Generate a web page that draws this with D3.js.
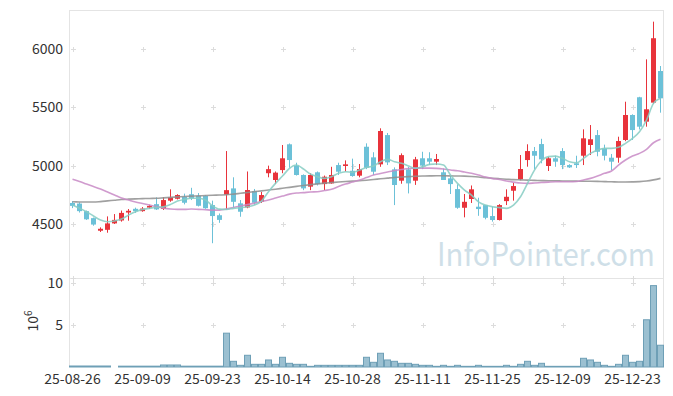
<!DOCTYPE html>
<html>
<head>
<meta charset="utf-8">
<script src="https://cdn.jsdelivr.net/npm/d3@7"></script>
<style>
  body { margin: 0; background: #fff; }
  svg { display: block; }
</style>
</head>
<body>
<svg id="chart" width="673" height="396"></svg>
<script>
// trading days (KRX), 2025-08-26 .. 2025-12-30
const dates = [
  "25-08-26", "25-08-27", "25-08-28", "25-08-29",
  "25-09-01", "25-09-02", "25-09-03", "25-09-04", "25-09-05",
  "25-09-08", "25-09-09", "25-09-10", "25-09-11", "25-09-12",
  "25-09-15", "25-09-16", "25-09-17", "25-09-18", "25-09-19",
  "25-09-22", "25-09-23", "25-09-24", "25-09-25", "25-09-26",
  "25-09-29", "25-09-30", "25-10-01", "25-10-02", "25-10-10",
  "25-10-13", "25-10-14", "25-10-15", "25-10-16", "25-10-17",
  "25-10-20", "25-10-21", "25-10-22", "25-10-23", "25-10-24",
  "25-10-27", "25-10-28", "25-10-29", "25-10-30", "25-10-31",
  "25-11-03", "25-11-04", "25-11-05", "25-11-06", "25-11-07",
  "25-11-10", "25-11-11", "25-11-12", "25-11-13", "25-11-14",
  "25-11-17", "25-11-18", "25-11-19", "25-11-20", "25-11-21",
  "25-11-24", "25-11-25", "25-11-26", "25-11-27", "25-11-28",
  "25-12-01", "25-12-02", "25-12-03", "25-12-04", "25-12-05",
  "25-12-08", "25-12-09", "25-12-10", "25-12-11", "25-12-12",
  "25-12-15", "25-12-16", "25-12-17", "25-12-18", "25-12-19",
  "25-12-22", "25-12-23", "25-12-24", "25-12-26", "25-12-29", "25-12-30"
];

const open = [
  4680, 4675, 4610, 4550, 4442, 4450, 4505, 4530, 4598, 4630,
  4610, 4640, 4670, 4630, 4700, 4716, 4733, 4755, 4740, 4740,
  4662, 4575, 4752, 4805, 4677, 4642, 4782, 4690, 4935, 4877,
  4962, 5183, 5000, 4920, 4820, 4943, 4842, 4848, 5005, 4997,
  4956, 4914, 5162, 5071, 5011, 5262, 4968, 4871, 4968, 4871,
  5063, 5063, 5034, 4943, 4891, 4799, 4639, 4714, 4648, 4662,
  4568, 4534, 4696, 4785, 4883, 5048, 5125, 5185, 4997, 5063,
  5125, 5005, 5020, 5085, 5177, 5262, 5148, 5068, 5068, 5220,
  5434, 5586, 5377, 5540, 5811
];
const high = [
  4696, 4685, 4615, 4555, 4471, 4565, 4585, 4615, 4628, 4640,
  4645, 4665, 4728, 4730, 4797, 4755, 4760, 4810, 4765, 4745,
  4700, 4590, 5125, 4900, 4705, 4950, 4800, 4775, 5000, 4950,
  5177, 5190, 5025, 4925, 4935, 4950, 4915, 4990, 5025, 5045,
  5060, 5014, 5191, 5115, 5320, 5280, 4985, 5105, 4990, 5075,
  5119, 5115, 5100, 4975, 4910, 4840, 4757, 4830, 4725, 4662,
  4648, 4670, 4797, 4853, 5091, 5183, 5160, 5230, 5075, 5085,
  5150, 5012, 5085, 5311, 5348, 5305, 5180, 5100, 5248, 5548,
  5440, 5590, 5911, 6234, 5854
];
const low = [
  4636, 4598, 4535, 4485, 4431, 4425, 4500, 4520, 4528, 4595,
  4605, 4630, 4620, 4620, 4690, 4710, 4668, 4705, 4650, 4630,
  4335, 4510, 4625, 4642, 4562, 4635, 4665, 4680, 4900, 4843,
  4935, 4982, 4915, 4790, 4790, 4830, 4790, 4845, 4920, 4950,
  4905, 4900, 4970, 4920, 4990, 5005, 4662, 4845, 4762, 4835,
  4970, 5005, 5005, 4877, 4757, 4630, 4557, 4680, 4570, 4540,
  4520, 4530, 4662, 4700, 4875, 4991, 4968, 5020, 4954, 4990,
  4970, 4980, 4980, 5005, 5091, 5080, 5045, 4962, 5025, 5210,
  5220, 5310, 5334, 5530, 5454
];
const close = [
  4655, 4610, 4540, 4495, 4459, 4505, 4535, 4595, 4613, 4610,
  4632, 4655, 4625, 4705, 4728, 4748, 4682, 4720, 4656, 4635,
  4568, 4535, 4790, 4690, 4605, 4791, 4682, 4748, 4970, 4940,
  5063, 5048, 4920, 4805, 4920, 4842, 4905, 4920, 4948, 5011,
  4911, 4971, 4982, 4948, 5297, 5028, 4834, 5090, 4848, 5054,
  5000, 5034, 5057, 4877, 4842, 4639, 4690, 4797, 4628, 4553,
  4534, 4662, 4733, 4825, 4971, 5125, 5085, 5054, 5063, 5034,
  5005, 4985, 5005, 5234, 5226, 5119, 5085, 5034, 5211, 5434,
  5305, 5334, 5483, 6092, 5577
];

// volume, millions of shares
const volume = [
  0.12, 0.12, 0.12, 0.12, 0.12, 0.12, 0, 0.1, 0.1, 0.1,
  0.1, 0.1, 0.1, 0.24, 0.24, 0.24, 0.1, 0.1, 0.1, 0.1,
  0.1, 0.1, 4.04, 0.68, 0.2, 1.4, 0.32, 0.32, 0.84, 0.32,
  1.16, 0.44, 0.32, 0.32, 0.08, 0.2, 0.2, 0.2, 0.2, 0.2,
  0.2, 0.2, 1.16, 0.56, 1.64, 0.84, 0.68, 0.44, 0.44, 0.32,
  0.2, 0.2, 0.08, 0.2, 0.08, 0.2, 0.08, 0.08, 0.2, 0.08,
  0.08, 0.08, 0.2, 0.08, 0.32, 0.68, 0.2, 0.44, 0.08, 0.08,
  0.08, 0.08, 0.08, 1.04, 0.84, 0.56, 0.2, 0.08, 0.32, 1.4,
  0.56, 0.68, 5.64, 9.72, 2.6
];

// moving averages as drawn on the chart
const ma5 = [
  4662, 4634, 4605, 4568, 4534, 4519, 4525, 4542, 4576, 4605,
  4625, 4634, 4642, 4648, 4668, 4696, 4711, 4720, 4720, 4705,
  4655, 4627, 4625, 4634, 4639, 4648, 4662, 4696, 4777, 4848,
  4911, 4977, 5005, 4971, 4928, 4905, 4891, 4905, 4934, 4948,
  4943, 4962, 4985, 4997, 5034, 5054, 5034, 5020, 4997, 4977,
  4991, 5011, 5014, 5005, 4920, 4848, 4791, 4748, 4690, 4662,
  4648, 4640, 4634, 4662, 4733, 4848, 4962, 5042, 5077, 5082,
  5063, 5034, 5025, 5063, 5105, 5134, 5148, 5148, 5157, 5191,
  5234, 5291, 5391, 5534, 5577
];
const ma20 = [
  4883, 4864, 4842, 4821, 4799, 4774, 4748, 4722, 4705, 4688,
  4675, 4662, 4649, 4636, 4628, 4625, 4625, 4628, 4625, 4622,
  4619, 4619, 4628, 4642, 4654, 4666, 4679, 4692, 4705, 4722,
  4739, 4756, 4765, 4769, 4774, 4776, 4787, 4797, 4821, 4842,
  4859, 4877, 4898, 4919, 4932, 4945, 4958, 4967, 4975, 4979,
  4979, 4979, 4977, 4971, 4962, 4956, 4945, 4934, 4919, 4902,
  4889, 4881, 4868, 4859, 4851, 4848, 4851, 4855, 4859, 4862,
  4862, 4862, 4864, 4877, 4891, 4911, 4934, 4954, 5005, 5048,
  5082, 5105, 5140, 5196, 5226
];
const ma60 = [
  4690, 4689, 4688, 4688, 4692, 4698, 4704, 4710, 4713, 4715,
  4717, 4719, 4720, 4724, 4728, 4732, 4736, 4739, 4741, 4744,
  4746, 4748, 4750, 4756, 4763, 4770, 4777, 4784, 4791, 4798,
  4806, 4814, 4822, 4830, 4837, 4844, 4850, 4855, 4860, 4864,
  4867, 4870, 4875, 4881, 4887, 4893, 4899, 4903, 4906, 4909,
  4911, 4912, 4913, 4913, 4912, 4911, 4910, 4907, 4903, 4897,
  4892, 4888, 4884, 4880, 4878, 4876, 4874, 4872, 4871, 4870,
  4869, 4868, 4867, 4866, 4866, 4865, 4863, 4862, 4860, 4860,
  4861, 4863, 4868, 4878, 4891
];

const priceTicks = [4500, 5000, 5500, 6000];
const volumeTicks = [5, 10];

function whenDocumentLoaded(action) {
  if (document.readyState === "loading") {
    document.addEventListener("DOMContentLoaded", action);
  } else {
    action();
  }
}

function drawChart(svg_element_id) {
  var svg = d3.select("#" + svg_element_id);
  var left = 69,
    right = 664,
    top = 10,
    split = 278,
    bottom = 367,
    font = "'Noto Sans CJK KR', 'Noto Sans', sans-serif",
    gridColor = "#e4e4e4",
    upColor = "#e8333b",
    downColor = "#6cc1d8";

  const idx = d3.range(dates.length);
  const x = d3.scaleBand().domain(idx).range([left, right]).padding(0);
  const cx = (i) => x(i) + x.bandwidth() / 2;
  const y = d3.scaleLinear().domain([4037, 6334]).range([split, top]);
  const yv = d3.scaleLinear().domain([0, 10.63]).range([bottom, split]);
  const tickIdx = d3.range(0, dates.length, 10);

  // frame
  var frame = svg.append("g").attr("stroke", gridColor).attr("fill", "none");
  frame.append("line").attr("x1", left).attr("x2", right).attr("y1", top + 0.5).attr("y2", top + 0.5);
  frame.append("line").attr("x1", left).attr("x2", right).attr("y1", split + 0.5).attr("y2", split + 0.5);
  frame.append("line").attr("x1", left + 0.5).attr("x2", left + 0.5).attr("y1", top).attr("y2", bottom);
  frame.append("line").attr("x1", right - 0.5).attr("x2", right - 0.5).attr("y1", top).attr("y2", bottom);

  // little "+" marks where grid lines would cross
  var crossY = priceTicks.map(y).concat([split]).concat(volumeTicks.map(yv));
  var crosses = [];
  tickIdx.forEach((i) => crossY.forEach((yy) => crosses.push([cx(i), yy])));
  svg
    .append("g")
    .selectAll("path")
    .data(crosses)
    .enter()
    .append("path")
    .attr("d", (d) => "M" + (Math.round(d[0]) - 2) + "," + (Math.round(d[1]) + 0.5) + "h5M" + (Math.round(d[0]) + 0.5) + "," + (Math.round(d[1]) - 2) + "v5")
    .attr("stroke", "#dcdcdc")
    .attr("fill", "none");

  // watermark
  svg
    .append("text")
    .attr("x", 437)
    .attr("y", 266)
    .attr("textLength", 218)
    .attr("lengthAdjust", "spacingAndGlyphs")
    .style("font-family", font)
    .style("font-size", "32px")
    .attr("fill", "#cfdfe8")
    .text("InfoPointer.com");

  // volume bars
  svg
    .append("g")
    .selectAll("rect")
    .data(idx)
    .enter()
    .append("rect")
    .attr("x", (i) => x(i) + 0.5)
    .attr("y", (i) => yv(volume[i]))
    .attr("width", x.bandwidth() - 1)
    .attr("height", (i) => bottom - yv(volume[i]))
    .attr("fill", "#9bc0d1")
    .attr("stroke", (i) => (volume[i] > 0 ? "#6e9fb6" : "none"))
    .attr("stroke-width", 1);

  // candles
  var candles = svg
    .append("g")
    .selectAll("g")
    .data(idx)
    .enter()
    .append("g")
    .attr("fill", (i) => (close[i] >= open[i] ? upColor : downColor))
    .attr("stroke", (i) => (close[i] >= open[i] ? upColor : downColor));

  candles
    .append("line")
    .attr("x1", cx)
    .attr("x2", cx)
    .attr("y1", (i) => y(high[i]))
    .attr("y2", (i) => y(low[i]))
    .attr("stroke-width", 1);

  candles
    .append("rect")
    .attr("x", (i) => cx(i) - 2.5)
    .attr("width", 5)
    .attr("y", (i) => y(Math.max(open[i], close[i])))
    .attr("height", (i) => Math.max(1.5, Math.abs(y(open[i]) - y(close[i]))))
    .attr("stroke", "none");

  // moving average lines
  var line = d3
    .line()
    .curve(d3.curveMonotoneX)
    .x((d, i) => cx(i))
    .y((d) => y(d));

  [
    [ma60, "#8f8f8f"],
    [ma20, "#c88ac6"],
    [ma5, "#86cdc3"],
  ].forEach((s) => {
    svg
      .append("path")
      .datum(s[0])
      .attr("d", line)
      .attr("fill", "none")
      .attr("stroke", s[1])
      .attr("stroke-width", 1.6)
      .attr("stroke-opacity", 0.85);
  });

  // axes
  var yAxis = d3.axisLeft(y).tickValues(priceTicks).tickFormat(d3.format("d")).tickSize(0).tickPadding(6);
  var vAxis = d3.axisLeft(yv).tickValues(volumeTicks).tickFormat(d3.format("d")).tickSize(0).tickPadding(6);
  var xAxis = d3
    .axisBottom(x)
    .tickValues(tickIdx)
    .tickFormat((i) => dates[i])
    .tickSize(0)
    .tickPadding(7);

  [
    svg.append("g").attr("transform", "translate(" + left + ",0)").call(yAxis),
    svg.append("g").attr("transform", "translate(" + left + ",0)").call(vAxis),
    svg.append("g").attr("transform", "translate(0," + bottom + ")").call(xAxis),
  ].forEach((g) => {
    g.select(".domain").remove();
    g.attr("font-family", font).attr("font-size", 14);
    g.selectAll("text").attr("fill", "#333");
  });

  // volume unit label
  var unit = svg
    .append("text")
    .attr("transform", "translate(38,321) rotate(-90)")
    .attr("text-anchor", "middle")
    .style("font-family", font)
    .style("font-size", "14px")
    .attr("fill", "#333");
  unit.append("tspan").text("10");
  unit.append("tspan").attr("dy", -6).style("font-size", "10px").text("6");
}

whenDocumentLoaded(() => {
  drawChart("chart");
});
</script>
</body>
</html>
